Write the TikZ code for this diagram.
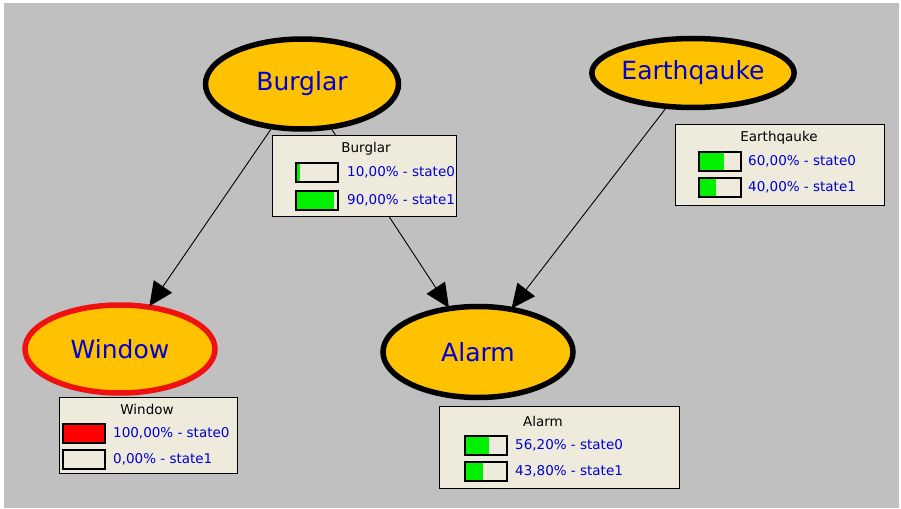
\documentclass[tikz,border=0pt]{standalone}
\usepackage{fontspec}
\setmainfont{DejaVu Sans}
\usetikzlibrary{shapes.geometric,arrows.meta}
\definecolor{bggray}{HTML}{C0C0C0}
\definecolor{nodefill}{HTML}{FFC200}
\definecolor{boxfill}{HTML}{EEEBDD}
\definecolor{txtblue}{HTML}{0000D0}
\definecolor{bargreen}{HTML}{00F000}
\definecolor{edgered}{HTML}{F01010}
\tikzset{
  varnode/.style={ellipse, draw=black, line width=5.5pt, fill=nodefill, text=txtblue,
    font=\fontsize{25}{29}\selectfont, inner sep=0pt},
  monbox/.style={draw=black, line width=1pt, fill=boxfill, rectangle, inner sep=0pt},
  boxtitle/.style={font=\fontsize{13.5}{16}\selectfont, text=black, inner sep=0pt},
  statetxt/.style={font=\fontsize{13.5}{16}\selectfont, text=txtblue, anchor=west, inner sep=0pt},
  link/.style={line width=0.9pt, -{Triangle[length=24pt,width=22pt]}, shorten >=-2pt},
  barframe/.style={draw=black, line width=1.3pt}
}
\newcommand\pbar[4]{% x, y top, percent, colour
  \fill[boxfill] (#1,#2) rectangle ({#1+42},{#2+19});
  \fill[#4] (#1,#2) rectangle ({#1+0.42*#3},{#2+19});
  \draw[barframe] (#1,#2) rectangle ({#1+42},{#2+19});
}
\begin{document}
\begin{tikzpicture}[x=1pt,y=-1pt]
\useasboundingbox (0,0) rectangle (901,508);
\fill[white] (0,0) rectangle (901,508);
\fill[bggray] (4,3) rectangle (899,508);

% variables
\node[varnode, minimum width=193pt, minimum height=90pt] (burglar) at (302,84) {Burglar};
\node[varnode, minimum width=190pt, minimum height=69pt] (earth) at (693,73) {Earthqauke};
\node[varnode, draw=edgered, minimum width=190pt, minimum height=88pt] (window) at (120,349) {Window};
\node[varnode, minimum width=190pt, minimum height=91pt] (alarm) at (478,352) {Alarm};

% connectors
\draw[link] (burglar) -- (window);
\draw[link] (burglar) -- (alarm);
\draw[link] (earth) -- (alarm);

% Burglar monitor
\node[monbox, minimum width=184pt, minimum height=81pt, anchor=north west] (bbox) at (272,135) {};
\node[boxtitle] (btitle) at (366,149) {Burglar};
\pbar{296}{163}{10}{bargreen}
\pbar{296}{191}{90}{bargreen}
\node[statetxt] (bs0) at (347,172.5) {10,00\% - state0};
\node[statetxt] (bs1) at (347,200.5) {90,00\% - state1};

% Earthqauke monitor
\node[monbox, minimum width=209pt, minimum height=81pt, anchor=north west] (ebox) at (675,124) {};
\node[boxtitle] (etitle) at (779,138) {Earthqauke};
\pbar{699}{152}{60}{bargreen}
\pbar{699}{178}{40}{bargreen}
\node[statetxt] (es0) at (748,161.5) {60,00\% - state0};
\node[statetxt] (es1) at (748,187.5) {40,00\% - state1};

% Window monitor
\node[monbox, minimum width=178pt, minimum height=76pt, anchor=north west] (wbox) at (59,397) {};
\node[boxtitle] (wtitle) at (147,409) {Window};
\pbar{63}{424}{100}{red}
\pbar{63}{450}{0}{bargreen}
\node[statetxt] (ws0) at (113,433.5) {100,00\% - state0};
\node[statetxt] (ws1) at (113,459.5) {0,00\% - state1};

% Alarm monitor
\node[monbox, minimum width=240pt, minimum height=82pt, anchor=north west] (abox) at (439,406) {};
\node[boxtitle] (atitle) at (543,421) {Alarm};
\pbar{465}{436}{56.2}{bargreen}
\pbar{465}{462}{43.8}{bargreen}
\node[statetxt] (as0) at (515,445.5) {56,20\% - state0};
\node[statetxt] (as1) at (515,471.5) {43,80\% - state1};
\end{tikzpicture}
\end{document}
